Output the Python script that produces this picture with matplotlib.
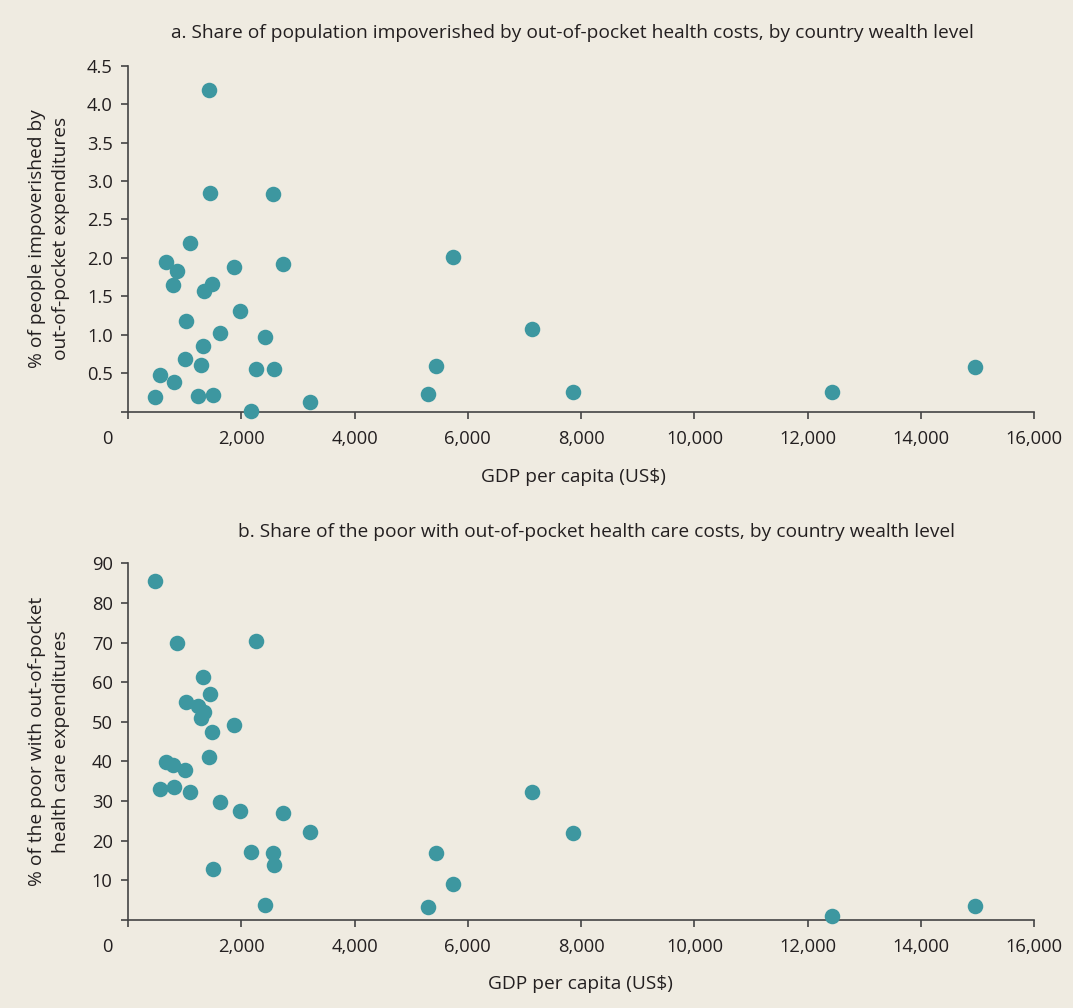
import matplotlib.pyplot as plt

# GDP per capita (US$) for each country, shared by both panels
gdp = [480, 570, 670, 790, 820, 860, 1000, 1030, 1090, 1230, 1290, 1320,
       1340, 1430, 1450, 1475, 1495, 1630, 1870, 1975, 2180, 2255, 2420,
       2560, 2580, 2735, 3205, 5305, 5440, 5740, 7140, 7850, 12435, 14960]
# a. % of people impoverished by out-of-pocket expenditures
impoverished = [0.19, 0.48, 1.95, 1.65, 0.38, 1.83, 0.68, 1.18, 2.19, 0.20,
                0.61, 0.85, 1.57, 4.19, 2.84, 1.66, 0.22, 1.03, 1.88, 1.31,
                0.01, 0.56, 0.97, 2.83, 0.56, 1.92, 0.12, 0.23, 0.59, 2.01,
                1.08, 0.25, 0.26, 0.58]
# b. % of the poor with out-of-pocket health care expenditures
poor_oop = [85.5, 33.1, 39.7, 39.1, 33.5, 69.9, 37.9, 55.1, 32.2, 54.0,
            50.9, 61.4, 52.4, 41.2, 57.0, 47.4, 12.9, 29.8, 49.1, 27.5,
            17.1, 70.3, 3.8, 16.8, 13.9, 26.9, 22.1, 3.1, 16.8, 8.9,
            32.2, 22.0, 0.9, 3.5]

x_ticks = [0, 2000, 4000, 6000, 8000, 10000, 12000, 14000, 16000]
x_labels = ['', '2,000', '4,000', '6,000', '8,000', '10,000', '12,000', '14,000', '16,000']
ya_ticks = [0, 0.5, 1.0, 1.5, 2.0, 2.5, 3.0, 3.5, 4.0, 4.5]
ya_labels = ['', '0.5', '1.0', '1.5', '2.0', '2.5', '3.0', '3.5', '4.0', '4.5']
yb_ticks = [0, 10, 20, 30, 40, 50, 60, 70, 80, 90]
yb_labels = ['', '10', '20', '30', '40', '50', '60', '70', '80', '90']

bg = '#efebe1'
teal = '#3d97a0'
ink = '#231f20'
axis_col = '#444444'

plt.rcParams['font.family'] = ['Open Sans', 'DejaVu Sans']

W, H = 1073, 1008
fig = plt.figure(figsize=(W / 100, H / 100), dpi=100, facecolor=bg)

ax_a = fig.add_axes([128 / W, 1 - 411.7 / H, (1034.3 - 128) / W, (411.7 - 65.7) / H])
ax_b = fig.add_axes([128 / W, 1 - 919.7 / H, (1034.3 - 128) / W, (919.7 - 563.3) / H])

TICK_FS = 13.2
TEXT_FS = 13.8


def style(ax, yvals, yticks, ylabels, ymax):
    ax.set_facecolor(bg)
    ax.scatter(gdp, yvals, s=125, color=teal, linewidths=0, zorder=3, clip_on=False)
    ax.set_xlim(0, 16000)
    ax.set_ylim(0, ymax)
    ax.set_xticks(x_ticks)
    ax.set_xticklabels(x_labels)
    ax.set_yticks(yticks)
    ax.set_yticklabels(ylabels)
    for s in ['top', 'right']:
        ax.spines[s].set_visible(False)
    for s in ['left', 'bottom']:
        ax.spines[s].set_color(axis_col)
        ax.spines[s].set_linewidth(1.2)
    ax.tick_params(axis='both', colors=axis_col, labelcolor=ink, length=5,
                   width=1.2, labelsize=TICK_FS)
    ax.tick_params(axis='y', pad=6)
    ax.tick_params(axis='x', pad=8)
    # origin label sits left of the zero tick
    ax.annotate('0', xy=(0, 0), xycoords='axes fraction', xytext=(-21, -27),
                textcoords='offset pixels', ha='center', va='center',
                fontsize=TICK_FS, color=ink)


style(ax_a, impoverished, ya_ticks, ya_labels, 4.5)
style(ax_b, poor_oop, yb_ticks, yb_labels, 90)

fig.text(572.5 / W, 1 - 33 / H,
         'a. Share of population impoverished by out-of-pocket health costs, by country wealth level',
         ha='center', va='center', fontsize=TEXT_FS, color=ink)
fig.text(597 / W, 1 - 532 / H,
         'b. Share of the poor with out-of-pocket health care costs, by country wealth level',
         ha='center', va='center', fontsize=TEXT_FS, color=ink)

fig.text(573 / W, 1 - 477 / H, r'GDP per capita (US\$)', ha='center', va='center',
         fontsize=TEXT_FS, color=ink)
fig.text(580 / W, 1 - 984 / H, r'GDP per capita (US\$)', ha='center', va='center',
         fontsize=TEXT_FS, color=ink)

fig.text(49 / W, 1 - 238.7 / H, '% of people impoverished by\nout-of-pocket expenditures',
         rotation=90, ha='center', va='center', fontsize=TEXT_FS, color=ink,
         linespacing=1.42, multialignment='center')
fig.text(49 / W, 1 - 741.5 / H, '% of the poor with out-of-pocket\nhealth care expenditures',
         rotation=90, ha='center', va='center', fontsize=TEXT_FS, color=ink,
         linespacing=1.42, multialignment='center')

fig.savefig('out.png', dpi=100, facecolor=bg)
